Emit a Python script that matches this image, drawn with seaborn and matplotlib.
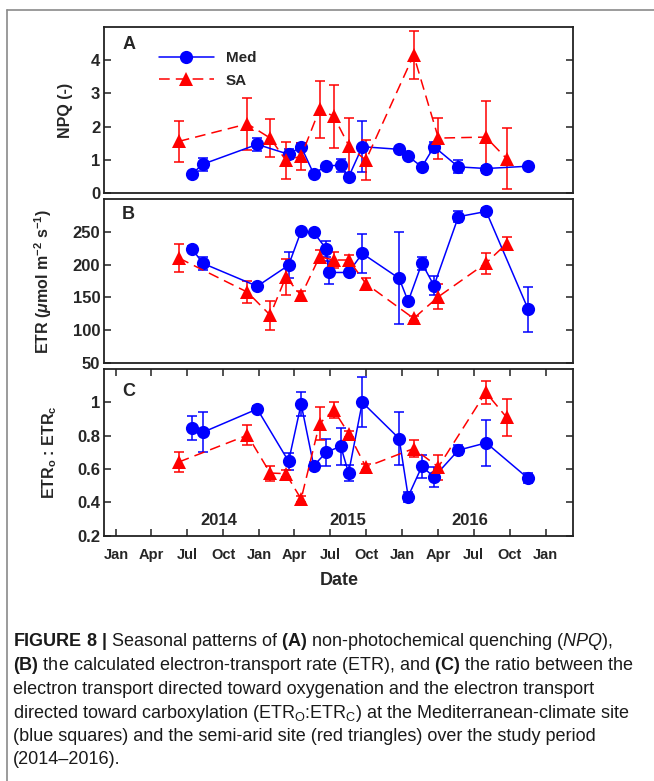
import pandas as pd
import matplotlib
matplotlib.use("Agg")
import matplotlib.pyplot as plt
import matplotlib.dates as mdates
from matplotlib.lines import Line2D
import seaborn as sns

# ---- data ----
# Mediterranean site (Med, blue circles)
med_dates_a = ["2014-07-14", "2014-08-10", "2014-12-27", "2015-03-17", "2015-04-18",
               "2015-05-20", "2015-06-21", "2015-07-28", "2015-08-17", "2015-09-21",
               "2015-12-24", "2016-01-16", "2016-02-20", "2016-03-22", "2016-05-23",
               "2016-08-02", "2016-11-17"]
med_dates_b = ["2014-07-14", "2014-08-10", "2014-12-27", "2015-03-17", "2015-04-18",
               "2015-05-20", "2015-06-21", "2015-06-27", "2015-08-17", "2015-09-21",
               "2015-12-24", "2016-01-16", "2016-02-20", "2016-03-22", "2016-05-23",
               "2016-08-02", "2016-11-17"]
med_dates_c = med_dates_a

npq_med = [0.57, 0.86, 1.46, 1.16, 1.39, 0.57, 0.81, 0.83, 0.47, 1.39,
           1.31, 1.10, 0.78, 1.39, 0.78, 0.73, 0.80]
npq_med_err = [0.05, 0.2, 0.2, 0.15, 0.1, 0.05, 0.05, 0.2, 0.1, 0.77,
               0.05, 0.05, 0.05, 0.15, 0.2, 0.08, 0.05]
etr_med = [224, 202, 167, 199, 251, 249, 224, 188, 188, 217,
           179, 144, 202, 168, 273, 281, 132]
etr_med_err = [4, 10, 4, 20, 3, 3, 12, 18, 4, 30,
               70, 4, 10, 15, 8, 6, 34]
ratio_med = [0.847, 0.82, 0.96, 0.646, 0.99, 0.62, 0.70, 0.737, 0.576, 1.0,
             0.783, 0.435, 0.616, 0.552, 0.713, 0.757, 0.544]
ratio_med_err = [0.07, 0.12, 0.02, 0.05, 0.07, 0.02, 0.08, 0.11, 0.05, 0.15,
                 0.16, 0.03, 0.07, 0.06, 0.03, 0.14, 0.03]

# semi-arid site (SA, red triangles)
sa_dates = ["2014-06-10", "2014-12-02", "2015-01-29", "2015-03-10", "2015-04-18",
            "2015-06-04", "2015-07-10", "2015-08-18", "2015-09-30", "2016-01-30",
            "2016-04-02", "2016-08-01", "2016-09-23"]
npq_sa = [1.55, 2.08, 1.65, 0.98, 1.10, 2.52, 2.31, 1.41, 0.98, 4.16, 1.65, 1.68, 1.03]
npq_sa_err = [0.63, 0.78, 0.57, 0.56, 0.4, 0.87, 0.95, 0.85, 0.6, 0.72, 0.62, 1.08, 0.91]
etr_sa = [210, 158, 123, 181, 153, 212, 207, 207, 171, 118, 151, 202, 232]
etr_sa_err = [22, 17, 22, 28, 7, 10, 12, 8, 8, 4, 19, 16, 10]
ratio_sa = [0.642, 0.803, 0.576, 0.572, 0.42, 0.873, 0.954, 0.81, 0.612, 0.723,
            0.612, 1.06, 0.91]
ratio_sa_err = [0.06, 0.06, 0.045, 0.02, 0.02, 0.1, 0.05, 0.02, 0.02, 0.05,
                0.075, 0.07, 0.11]

year_labels = ["2014", "2015", "2016"]
year_label_dates = ["2014-09-20", "2015-08-15", "2016-06-20"]

# ---- style ----
sns.set_style("ticks")
plt.rcParams["font.family"] = ["Liberation Sans", "DejaVu Sans"]
plt.rcParams["mathtext.fontset"] = "custom"
plt.rcParams["mathtext.rm"] = "Liberation Sans:bold"
plt.rcParams["mathtext.bf"] = "Liberation Sans:bold"
plt.rcParams["mathtext.it"] = "Liberation Sans:italic:bold"
plt.rcParams["mathtext.sf"] = "Liberation Sans"
plt.rcParams["mathtext.cal"] = "Liberation Sans:italic"

BLUE = "#0000ff"
RED = "#ff0000"
palette = {"Med": BLUE, "SA": RED}
SA_DASH = (7, 4)

fig = plt.figure(figsize=(6.54, 7.81), dpi=100)
ax_a = fig.add_axes([0.1595, 0.7533, 0.717, 0.2118])
ax_b = fig.add_axes([0.1595, 0.5352, 0.717, 0.2100])
ax_c = fig.add_axes([0.1595, 0.3141, 0.717, 0.2134])

panels = [
    (ax_a, med_dates_a, npq_med, npq_med_err, npq_sa, npq_sa_err, (0, 5), [0, 1, 2, 3, 4],
     ["0", "1", "2", "3", "4"], "NPQ (-)", "A", 0.893),
    (ax_b, med_dates_b, etr_med, etr_med_err, etr_sa, etr_sa_err, (50, 300),
     [50, 100, 150, 200, 250], ["50", "100", "150", "200", "250"],
     r"ETR ($\mu$mol m$^{-2}$ s$^{-1}$)", "B", 0.905),
    (ax_c, med_dates_c, ratio_med, ratio_med_err, ratio_sa, ratio_sa_err, (0.2, 1.2),
     [0.2, 0.4, 0.6, 0.8, 1.0], ["0.2", "0.4", "0.6", "0.8", "1"],
     r"ETR$_\mathbf{o}$ : ETR$_\mathbf{c}$", "C", 0.868),
]

xmin, xmax = pd.Timestamp("2013-12-02"), pd.Timestamp("2017-03-12")

for ax, mdates_, med, med_err, sa, sa_err, ylim, yt, ytl, ylab, letter, ly in panels:
    df = pd.DataFrame({
        "date": pd.to_datetime(mdates_ + sa_dates),
        "value": med + sa,
        "site": ["Med"] * len(med) + ["SA"] * len(sa),
    })
    ax.errorbar(pd.to_datetime(mdates_), med, yerr=med_err, fmt="none", ecolor=BLUE,
                elinewidth=1.1, capsize=3.5, capthick=1.1, zorder=2)
    ax.errorbar(pd.to_datetime(sa_dates), sa, yerr=sa_err, fmt="none", ecolor=RED,
                elinewidth=1.1, capsize=3.5, capthick=1.1, zorder=2)
    sns.lineplot(data=df, x="date", y="value", hue="site", style="site",
                 palette=palette, markers={"Med": "o", "SA": "^"},
                 dashes={"Med": "", "SA": SA_DASH}, markersize=9.5,
                 markeredgewidth=0, linewidth=1.1, legend=False, ax=ax, zorder=3)

    ax.set_xlim(xmin, xmax)
    ax.set_ylim(*ylim)
    ax.set_yticks(yt)
    ax.set_yticklabels(ytl, fontsize=12, fontweight="bold")
    ax.set_ylabel(ylab, fontsize=11.5, fontweight="bold", labelpad=13)
    ax.set_xlabel("")
    ax.tick_params(axis="y", direction="in", left=True, right=True, length=5,
                   width=1.1, pad=3, color="#222222")
    for sp in ax.spines.values():
        sp.set_visible(True)
        sp.set_linewidth(1.3)
        sp.set_color("#222222")
    ax.text(0.038, ly, letter, transform=ax.transAxes, fontsize=13,
            fontweight="bold", va="center", ha="left")

# x axis only on the bottom panel
for ax in (ax_a, ax_b):
    ax.tick_params(axis="x", bottom=False, top=False, labelbottom=False)

ax_c.xaxis.set_major_locator(mdates.MonthLocator(bymonth=[1, 4, 7, 10]))
ax_c.xaxis.set_major_formatter(mdates.DateFormatter("%b"))
ax_c.tick_params(axis="x", direction="in", bottom=True, top=True, length=5,
                 width=1.1, pad=9, color="#222222")
for lbl in ax_c.get_xticklabels():
    lbl.set_fontsize(10.5)
    lbl.set_fontweight("bold")
ax_c.set_xlabel("Date", fontsize=13, fontweight="bold", labelpad=7)

for txt, d in zip(year_labels, year_label_dates):
    ax_c.text(pd.Timestamp(d), 0.29, txt, fontsize=12, fontweight="bold",
              ha="center", va="center")

# legend in panel A
handles = [
    Line2D([], [], color=BLUE, lw=1.1, marker="o", markersize=9.5, markeredgewidth=0),
    Line2D([], [], color=RED, lw=1.1, ls=(0, SA_DASH), marker="^", markersize=9.5,
           markeredgewidth=0),
]
ax_a.legend(handles, ["Med", "SA"], loc="upper left", bbox_to_anchor=(0.1, 0.9),
            frameon=False, handlelength=3.6, borderpad=0, labelspacing=0.55,
            prop={"weight": "bold", "size": 11})

# outer frame of the figure panel
fig.add_artist(Line2D([7 / 654, 1.0], [1 - 10 / 781, 1 - 10 / 781],
                      transform=fig.transFigure, color="#8a8a8a", lw=1.2))
fig.add_artist(Line2D([7 / 654, 7 / 654], [0, 1 - 10 / 781],
                      transform=fig.transFigure, color="#8a8a8a", lw=1.2))

# caption
caption = [
    r"$\mathbf{FIGURE\ 8\ |}$ Seasonal patterns of $\mathbf{(A)}$ non-photochemical quenching ($\mathcal{NPQ}$),",
    r"$\mathbf{(B)}$ the calculated electron-transport rate (ETR), and $\mathbf{(C)}$ the ratio between the",
    "electron transport directed toward oxygenation and the electron transport",
    r"directed toward carboxylation (ETR$_\mathsf{O}$:ETR$_\mathsf{C}$) at the Mediterranean-climate site",
    "(blue squares) and the semi-arid site (red triangles) over the study period",
    "(2014\u20132016).",
]
cap_y = [641.7, 665.7, 689.3, 713.3, 736.7, 760.0]
for line, yy in zip(caption, cap_y):
    fig.text(13 / 654, 1 - yy / 781, line, fontsize=13, color="#1a1a1a",
             ha="left", va="center")

fig.savefig("out.png", dpi=100)
